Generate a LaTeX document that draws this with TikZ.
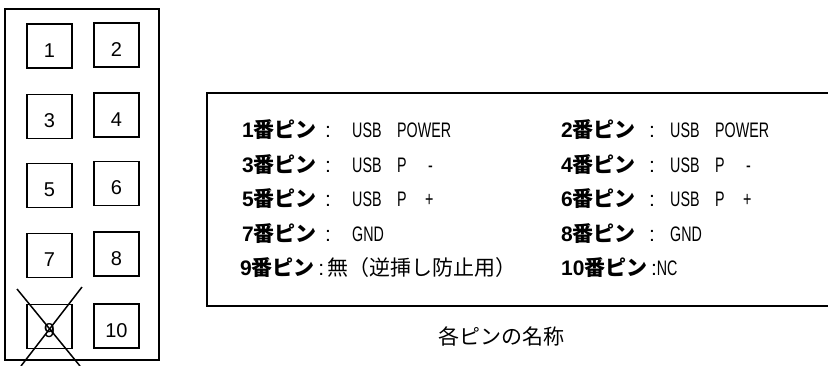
\documentclass[tikz,border=0pt]{standalone}
\usepackage{fontspec}
\setmainfont{Liberation Sans}
\newfontfamily\jpfont{Noto Sans CJK JP}
\newfontfamily\narrowfont[FakeStretch=0.68]{Liberation Sans}
\newcommand\pinlab[1]{{\bfseries #1}{\jpfont\bfseries 番ピン}}
\begin{document}
\begin{tikzpicture}[x=1pt,y=-1pt,
  pinbox/.style={draw, line width=1.6pt, minimum width=45pt, minimum height=44pt,
    inner sep=0pt, text height=22pt, text depth=0pt, font=\fontsize{20}{20}\selectfont},
  lab/.style={anchor=base west, inner sep=0pt, font=\fontsize{21}{21}\selectfont},
  val/.style={anchor=base west, inner sep=0pt, font=\fontsize{21}{21}\narrowfont},
  frame/.style={line width=1.9pt},
  crossline/.style={line width=1.5pt}]
\useasboundingbox (0,0) rectangle (828,365);
% connector block
\draw[frame] (5,9) rectangle (159,360);
\node[pinbox] (p1) at (49.5,46) {1};
\node[pinbox] (p2) at (116.5,45) {2};
\node[pinbox] (p3) at (49.5,116.5) {3};
\node[pinbox] (p4) at (116.5,115) {4};
\node[pinbox] (p5) at (49.5,185.5) {5};
\node[pinbox] (p6) at (116.5,183.5) {6};
\node[pinbox] (p7) at (49.5,255.5) {7};
\node[pinbox] (p8) at (116.5,254) {8};
\node[pinbox] (p9) at (49.5,326.5) {9};
\node[pinbox] (p10) at (116.5,326) {10};
\coordinate (xa1) at (17,289);
\coordinate (xa2) at (80,366);
\coordinate (xb1) at (82,287);
\coordinate (xb2) at (21,366);
\draw[crossline] (xa1) -- (xa2);
\draw[crossline] (xb1) -- (xb2);
% name table
\draw[frame] (830,93) -- (207,93) -- (207,306) -- (830,306);
% row 1
\node[lab] (l1) at (242,137.5) {\pinlab{1}};
\node[lab] (lc1) at (325,137.5) {:};
\node[val] (lu1) at (352,137.5) {USB};
\node[val] (lv1) at (397,137.5) {POWER};
\node[lab] (r2) at (561,137.5) {\pinlab{2}};
\node[lab] (rc2) at (649,137.5) {:};
\node[val] (ru2) at (670,137.5) {USB};
\node[val] (rv2) at (715,137.5) {POWER};
% row 2
\node[lab] (l3) at (242,172) {\pinlab{3}};
\node[lab] (lc3) at (325,172) {:};
\node[val] (lu3) at (352,172) {USB};
\node[val] (lv3) at (397,172) {P};
\node[val] (lw3) at (428,172) {-};
\node[lab] (r4) at (561,172) {\pinlab{4}};
\node[lab] (rc4) at (649,172) {:};
\node[val] (ru4) at (670,172) {USB};
\node[val] (rv4) at (715,172) {P};
\node[val] (rw4) at (746,172) {-};
% row 3
\node[lab] (l5) at (242,206.5) {\pinlab{5}};
\node[lab] (lc5) at (325,206.5) {:};
\node[val] (lu5) at (352,206.5) {USB};
\node[val] (lv5) at (397,206.5) {P};
\node[val] (lw5) at (425,206.5) {+};
\node[lab] (r6) at (561,206.5) {\pinlab{6}};
\node[lab] (rc6) at (649,206.5) {:};
\node[val] (ru6) at (670,206.5) {USB};
\node[val] (rv6) at (715,206.5) {P};
\node[val] (rw6) at (743,206.5) {+};
% row 4
\node[lab] (l7) at (242,241) {\pinlab{7}};
\node[lab] (lc7) at (325,241) {:};
\node[val] (lu7) at (352,241) {GND};
\node[lab] (r8) at (561,241) {\pinlab{8}};
\node[lab] (rc8) at (649,241) {:};
\node[val] (ru8) at (670,241) {GND};
% row 5
\node[lab] (l9) at (240,275.5) {\pinlab{9}\,:\,{\jpfont 無（逆挿し防止用）}};
\node[lab] (r10) at (561,275.5) {\pinlab{10}\,:{\narrowfont NC}};
% caption
\node[lab] (cap) at (438,344) {\jpfont 各ピンの名称};
\end{tikzpicture}
\end{document}
